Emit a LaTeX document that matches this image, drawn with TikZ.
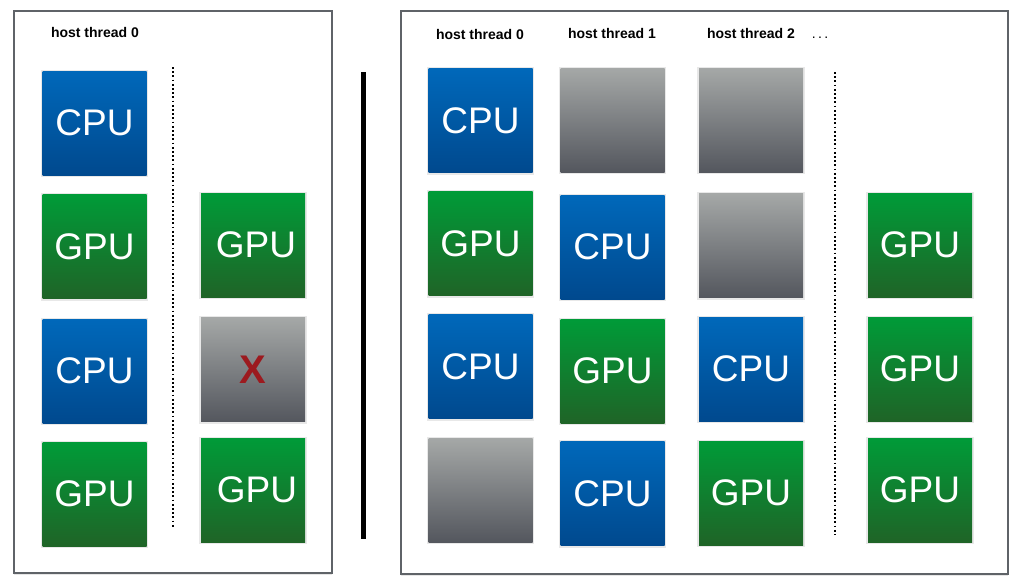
\documentclass[tikz,border=0pt]{standalone}
\usepackage{fontspec}
\setmainfont{Liberation Sans}
\usetikzlibrary{shadows}
\definecolor{cpuT}{HTML}{0068BA}
\definecolor{cpuB}{HTML}{00498E}
\definecolor{gpuT}{HTML}{009B38}
\definecolor{gpuB}{HTML}{1F6427}
\definecolor{grT}{HTML}{A5A8A7}
\definecolor{grB}{HTML}{54575E}
\definecolor{framec}{HTML}{5F6368}
\definecolor{xred}{HTML}{9C1A1F}
\begin{document}
\begin{tikzpicture}[x=1pt,y=-1pt,
  unit/.style={minimum width=104pt, minimum height=104pt, inner sep=0pt, text=white,
    font=\fontsize{37}{37}\selectfont,
    drop shadow={shadow xshift=0pt, shadow yshift=-0.5pt, shadow scale=1.03, opacity=0.18}},
  cpu/.style={unit, top color=cpuT, bottom color=cpuB},
  gpu/.style={unit, top color=gpuT, bottom color=gpuB},
  idle/.style={unit, top color=grT, bottom color=grB},
  panel/.style={draw=framec, line width=2.5pt, fill=white,
    drop shadow={shadow xshift=0pt, shadow yshift=-1.5pt, opacity=0.2}},
  lbl/.style={font=\fontsize{14}{16}\selectfont\bfseries, inner sep=0pt},
  sep/.style={line width=2pt, dash pattern=on 1.8pt off 2.4pt},
  bar/.style={line width=5pt}
]
\useasboundingbox (0,0) rectangle (1018,584);
% panels
\node[panel, minimum width=318pt, minimum height=562pt, inner sep=0pt] (lp) at (173,292) {};
\node[panel, minimum width=607pt, minimum height=563pt, inner sep=0pt] (rp) at (704.5,292.5) {};
% separators
\coordinate (ld1) at (173,67);
\coordinate (ld2) at (173,528);
\draw[sep] (ld1) -- (ld2);
\coordinate (rd1) at (835,72);
\coordinate (rd2) at (835,535);
\draw[sep] (rd1) -- (rd2);
\coordinate (b1) at (363.5,72);
\coordinate (b2) at (363.5,539);
\draw[bar] (b1) -- (b2);
% labels
\node[lbl] (lh0) at (95,32) {host thread 0};
\node[lbl] (rh0) at (480,34) {host thread 0};
\node[lbl] (rh1) at (612,33) {host thread 1};
\node[lbl] (rh2) at (751,33) {host thread 2};
\node[font=\fontsize{14}{16}\selectfont, inner sep=0pt, anchor=base] (rdots) at (820,38) {.\,.\,.};
% left panel
\node[cpu] (l11) at (94.5,123) {CPU};
\node[gpu] (l12) at (94.5,246.5) {GPU};
\node[cpu] (l13) at (94.5,371) {CPU};
\node[gpu] (l14) at (94.5,494) {GPU};
\node[gpu] (l22) at (253,245) {\hspace*{6pt}GPU};
\node[idle, text=xred, font=\fontsize{40}{40}\selectfont\bfseries] (l23) at (253,369.5) {X};
\node[gpu] (l24) at (253,490) {\hspace*{8pt}GPU};
% right panel
\node[cpu] (r11) at (480.5,120.5) {CPU};
\node[gpu] (r12) at (480.5,243.5) {GPU};
\node[cpu] (r13) at (480.5,366.5) {CPU};
\node[idle] (r14) at (480.5,490) {};
\node[idle] (r21) at (612.5,120) {};
\node[cpu] (r22) at (612.5,247) {CPU};
\node[gpu] (r23) at (612.5,371) {GPU};
\node[cpu] (r24) at (612.5,493.5) {CPU};
\node[idle] (r31) at (751,120) {};
\node[idle] (r32) at (751,245.5) {};
\node[cpu] (r33) at (751,369) {CPU};
\node[gpu] (r34) at (751,493) {GPU};
\node[gpu] (r42) at (920,245) {GPU};
\node[gpu] (r43) at (920,369) {GPU};
\node[gpu] (r44) at (920,490) {GPU};
\end{tikzpicture}
\end{document}
